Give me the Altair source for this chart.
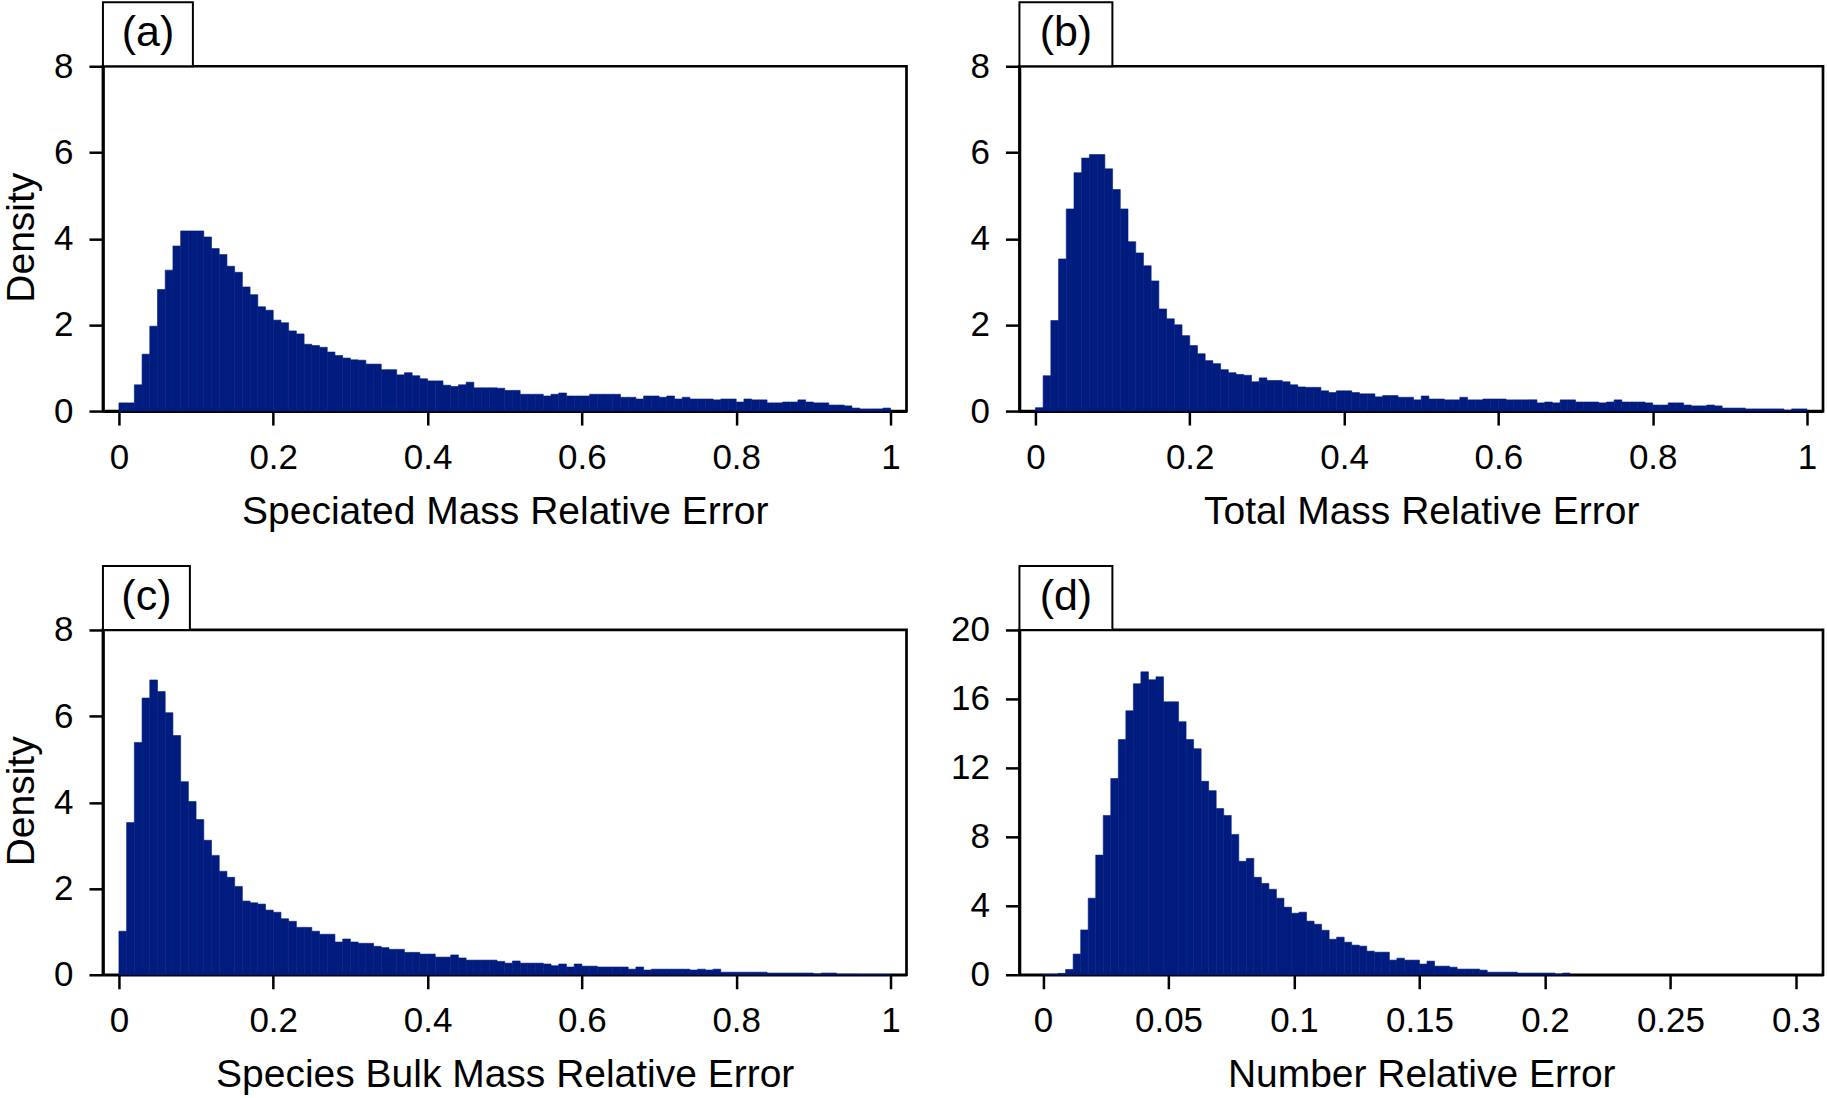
import altair as alt
import pandas as pd

FONT = "Liberation Sans"
NAVY = "#001C7F"

# ---- data: histogram densities ----
dens_a = [0.19, 0.19, 0.61, 1.32, 1.97, 2.82, 3.27, 3.83, 4.18, 4.18,
          4.18, 4.04, 3.77, 3.63, 3.36, 3.22, 2.88, 2.70, 2.42, 2.34,
          2.11, 2.05, 1.86, 1.79, 1.55, 1.52, 1.48, 1.37, 1.29, 1.23,
          1.19, 1.18, 1.09, 1.09, 0.96, 0.96, 0.84, 0.89, 0.82, 0.75,
          0.70, 0.70, 0.60, 0.57, 0.61, 0.67, 0.54, 0.54, 0.54, 0.53,
          0.48, 0.48, 0.39, 0.39, 0.39, 0.35, 0.39, 0.42, 0.35, 0.35,
          0.35, 0.39, 0.39, 0.39, 0.39, 0.32, 0.32, 0.28, 0.35, 0.35,
          0.32, 0.35, 0.28, 0.32, 0.28, 0.28, 0.28, 0.26, 0.28, 0.28,
          0.21, 0.28, 0.26, 0.26, 0.19, 0.19, 0.21, 0.21, 0.26, 0.21,
          0.19, 0.19, 0.14, 0.14, 0.12, 0.07, 0.05, 0.05, 0.05, 0.07]

dens_b = [0.08, 0.82, 2.10, 3.53, 4.69, 5.53, 5.87, 5.95, 5.95, 5.62,
          5.14, 4.69, 3.93, 3.67, 3.37, 3.02, 2.37, 2.14, 2.00, 1.75,
          1.52, 1.33, 1.17, 1.10, 0.96, 0.89, 0.85, 0.83, 0.68, 0.77,
          0.71, 0.71, 0.68, 0.61, 0.56, 0.55, 0.55, 0.47, 0.43, 0.47,
          0.47, 0.43, 0.40, 0.40, 0.33, 0.36, 0.36, 0.32, 0.32, 0.26,
          0.35, 0.28, 0.28, 0.26, 0.26, 0.32, 0.26, 0.26, 0.28, 0.28,
          0.28, 0.26, 0.26, 0.26, 0.26, 0.19, 0.21, 0.19, 0.26, 0.26,
          0.21, 0.21, 0.21, 0.19, 0.21, 0.26, 0.21, 0.21, 0.21, 0.19,
          0.14, 0.14, 0.19, 0.19, 0.14, 0.12, 0.12, 0.14, 0.12, 0.07,
          0.07, 0.07, 0.05, 0.05, 0.05, 0.05, 0.05, 0.02, 0.05, 0.05]

dens_c = [1.01, 3.53, 5.39, 6.42, 6.84, 6.57, 6.08, 5.55, 4.48, 4.02,
          3.60, 3.12, 2.77, 2.40, 2.26, 2.05, 1.71, 1.67, 1.64, 1.50,
          1.45, 1.30, 1.24, 1.10, 1.10, 1.01, 0.94, 0.94, 0.76, 0.83,
          0.76, 0.73, 0.73, 0.66, 0.63, 0.59, 0.59, 0.52, 0.52, 0.48,
          0.48, 0.41, 0.41, 0.46, 0.39, 0.34, 0.34, 0.34, 0.34, 0.31,
          0.27, 0.32, 0.27, 0.27, 0.27, 0.25, 0.21, 0.25, 0.18, 0.25,
          0.20, 0.20, 0.18, 0.18, 0.18, 0.18, 0.13, 0.18, 0.11, 0.13,
          0.13, 0.13, 0.13, 0.13, 0.11, 0.13, 0.11, 0.13, 0.06, 0.06,
          0.06, 0.06, 0.06, 0.06, 0.04, 0.04, 0.04, 0.04, 0.04, 0.04,
          0.02, 0.04, 0.04, 0.01, 0.01, 0.01, 0.00, 0.00, 0.00, 0.00]

dens_d = [0.00, 0.02, 0.08, 0.31, 1.20, 2.60, 4.44, 6.94, 9.24, 11.38,
          13.64, 15.31, 16.88, 17.57, 17.11, 17.28, 15.83, 15.83, 14.68, 13.64,
          13.11, 11.22, 10.68, 9.64, 9.24, 8.14, 6.58, 6.75, 5.65, 5.30,
          4.96, 4.44, 3.92, 3.57, 3.63, 3.11, 2.93, 2.58, 2.06, 2.18,
          1.89, 1.72, 1.66, 1.37, 1.31, 1.31, 0.85, 0.96, 0.85, 0.85,
          0.62, 0.79, 0.50, 0.50, 0.44, 0.33, 0.33, 0.33, 0.27, 0.15,
          0.15, 0.15, 0.15, 0.10, 0.10, 0.10, 0.10, 0.10, 0.04, 0.10]

bin_width = [0.01, 0.01, 0.01, 0.003]
x_titles = ["Speciated Mass Relative Error", "Total Mass Relative Error",
            "Species Bulk Mass Relative Error", "Number Relative Error"]
labels = ["(a)", "(b)", "(c)", "(d)"]
x_ticks_unit = [0, 0.2, 0.4, 0.6, 0.8, 1]
x_ticks_num = [0, 0.05, 0.1, 0.15, 0.2, 0.25, 0.3]
y_ticks_8 = [0, 2, 4, 6, 8]
y_ticks_20 = [0, 4, 8, 12, 16, 20]

W, H = 804, 345


def panel(vals, bw, xdom, xticks, ymax, yticks, xtitle, ytitle, label, boxw):
    df = pd.DataFrame({
        "x0": [i * bw for i in range(len(vals))],
        "x1": [(i + 1) * bw for i in range(len(vals))],
        "d": vals,
        "z": [0.0] * len(vals),
    })
    yaxis_kw = dict(values=yticks, labelPadding=16, title=ytitle)
    if ytitle:
        yaxis_kw.update(titleX=-69, titleY=171, titleAngle=270,
                        titleBaseline="alphabetic", titleAlign="center")
    bars = alt.Chart(df).mark_rect(color=NAVY, stroke=NAVY, strokeWidth=0.6).encode(
        x=alt.X("x0:Q", scale=alt.Scale(domain=xdom, nice=False, zero=False),
                axis=alt.Axis(values=xticks, format="~g", title=xtitle,
                              labelPadding=15, titleY=112,
                              titleBaseline="alphabetic", labelFlush=False)),
        x2="x1:Q",
        y=alt.Y("d:Q", scale=alt.Scale(domain=[0, ymax], nice=False),
                axis=alt.Axis(**yaxis_kw)),
        y2="z:Q",
    )
    lab = alt.Chart(pd.DataFrame({"t": [label]}))
    box = lab.mark_rect(fill="white", stroke="black", strokeWidth=2).encode(
        x=alt.value(0), x2=alt.value(boxw), y=alt.value(-64), y2=alt.value(0))
    txt = lab.mark_text(font=FONT, fontSize=43, color="black", align="center",
                        baseline="alphabetic").encode(
        x=alt.value(boxw / 2), y=alt.value(-20), text="t:N")
    return alt.layer(bars, box, txt).properties(width=W, height=H)


pa = panel(dens_a, bin_width[0], [-0.0207, 1.0207], x_ticks_unit, 8, y_ticks_8,
           x_titles[0], "Density", labels[0], 90)
pb = panel(dens_b, bin_width[1], [-0.0207, 1.0207], x_ticks_unit, 8, y_ticks_8,
           x_titles[1], None, labels[1], 93)
pc = panel(dens_c, bin_width[2], [-0.0207, 1.0207], x_ticks_unit, 8, y_ticks_8,
           x_titles[2], "Density", labels[2], 87)
pd_ = panel(dens_d, bin_width[3], [-0.0094, 0.3108], x_ticks_num, 20, y_ticks_20,
            x_titles[3], None, labels[3], 93)

chart = alt.concat(pa, pb, pc, pd_, columns=2,
                   spacing={"row": 219, "column": 113}, bounds="flush").properties(
    padding={"left": 1, "top": -1, "right": 2, "bottom": 0},
    background="white",
).configure_view(
    stroke="black", strokeWidth=2.7
).configure_axis(
    grid=False, domain=True, domainColor="black", domainWidth=2.7,
    ticks=True, tickColor="black", tickWidth=2.5, tickSize=14,
    labelFont=FONT, labelFontSize=35, labelColor="black",
    titleFont=FONT, titleFontSize=39, titleColor="black", titleFontWeight="normal",
    zindex=1,
).configure_text(font=FONT)

chart.save("out.html", embed_options={"renderer": "svg", "actions": False})
